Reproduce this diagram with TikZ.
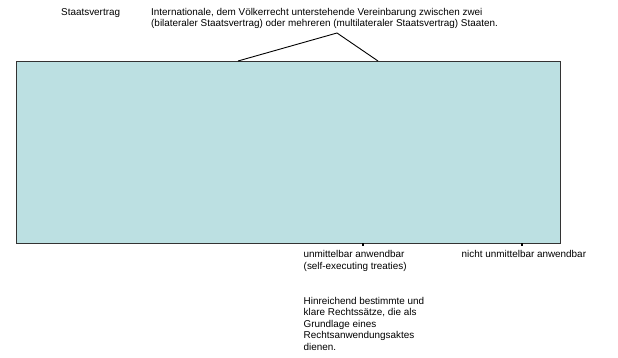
\documentclass[tikz,border=0pt]{standalone}
\usepackage{fontspec}
\setmainfont{Liberation Sans}
\begin{document}
\begin{tikzpicture}[x=1pt,y=-1pt,
  lbl/.style={anchor=base west,inner sep=0pt,align=left,font=\fontsize{9.9}{11.5}\selectfont},
  boxst/.style={draw=black!80,line width=0.6pt,fill={rgb,255:red,188;green,224;blue,226}},
  link/.style={draw=black,line width=0.9pt},
  stub/.style={draw=black,line width=1.6pt}]
\useasboundingbox (0,0) rectangle (618,358);
\node[lbl] (title) at (61,15.5) {Staatsvertrag};
\node[lbl] (def) at (151,27) {Internationale, dem Völkerrecht unterstehende Vereinbarung zwischen zwei\\(bilateraler Staatsvertrag) oder mehreren (multilateraler Staatsvertrag) Staaten.};
\coordinate (apex) at (337,33);
\path[boxst] (16,61) rectangle (560,243);
\coordinate (bl) at (238,61);
\coordinate (br) at (378,61);
\draw[link] (apex) -- (bl);
\draw[link] (apex) -- (br);
\node[lbl] (u) at (303.5,269) {unmittelbar anwendbar\\(self-executing treaties)};
\node[lbl] (n) at (461.5,257.5) {nicht unmittelbar anwendbar};
\node[lbl] (h) at (303.5,350) {Hinreichend bestimmte und\\klare Rechtssätze, die als\\Grundlage eines\\Rechtsanwendungsaktes\\dienen.};
\coordinate (us) at (363,243.3);
\coordinate (ue) at (363,246);
\coordinate (ns) at (522,243.3);
\coordinate (ne) at (522,246);
\draw[stub] (us) -- (ue);
\draw[stub] (ns) -- (ne);
\end{tikzpicture}
\end{document}
